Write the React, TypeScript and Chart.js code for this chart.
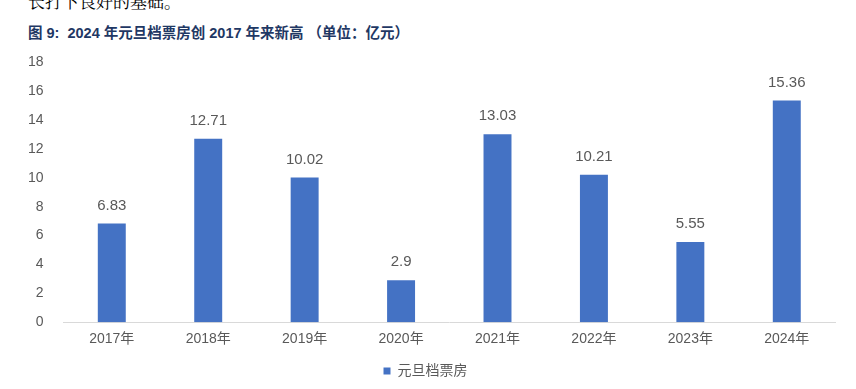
import React, { useEffect, useRef } from "react";
import { Chart, registerables } from "chart.js";

Chart.register(...registerables);

const categories = ["2017年", "2018年", "2019年", "2020年", "2021年", "2022年", "2023年", "2024年"];
const boxOffice = [6.83, 12.71, 10.02, 2.9, 13.03, 10.21, 5.55, 15.36];
const valueLabels = ["6.83", "12.71", "10.02", "2.9", "13.03", "10.21", "5.55", "15.36"];
const seriesName = "元旦档票房";
const yTicks = [0, 2, 4, 6, 8, 10, 12, 14, 16, 18];

const FONT = "'Liberation Sans', 'Noto Sans CJK SC', sans-serif";

const labelPlugin = {
  id: "valueLabels",
  afterDatasetsDraw(chart: any) {
    const ctx = chart.ctx;
    const meta = chart.getDatasetMeta(0);
    ctx.save();
    ctx.font = `15px ${FONT}`;
    ctx.fillStyle = "#595959";
    ctx.textAlign = "center";
    ctx.textBaseline = "middle";
    meta.data.forEach((el: any, i: number) => {
      ctx.fillText(valueLabels[i], el.x, el.y - 18);
    });
    ctx.restore();
  },
};

export default function App() {
  const ref = useRef<HTMLCanvasElement>(null);
  useEffect(() => {
    if (!ref.current) return;
    const chart = new Chart(ref.current, {
      type: "bar",
      data: {
        labels: categories,
        datasets: [
          {
            label: seriesName,
            data: boxOffice,
            backgroundColor: "#4472c4",
            barPercentage: 0.29,
            categoryPercentage: 1,
          },
        ],
      },
      options: {
        animation: false,
        responsive: false,
        maintainAspectRatio: false,
        layout: { padding: { left: 16, right: 21, top: 7, bottom: 4 } },
        plugins: {
          tooltip: { enabled: false },
          legend: {
            position: "bottom",
            labels: {
              boxWidth: 7,
              boxHeight: 7,
              padding: 7,
              color: "#595959",
              font: { family: FONT, size: 14 },
            },
          },
        },
        scales: {
          x: {
            grid: { display: true, drawOnChartArea: false, drawTicks: false, color: "#d9d9d9" },
            border: { display: true, color: "#d9d9d9", width: 1 },
            ticks: { color: "#595959", font: { family: FONT, size: 14 }, padding: 9 },
          },
          y: {
            min: 0,
            max: 18,
            afterBuildTicks: (axis: any) => {
              axis.ticks = yTicks.map((v) => ({ value: v }));
            },
            grid: { display: false },
            border: { display: false },
            ticks: { color: "#595959", font: { family: FONT, size: 14 }, padding: 12 },
          },
        },
      },
      plugins: [labelPlugin],
    });
    return () => chart.destroy();
  }, []);

  return (
    <div style={{ position: "fixed", left: 0, top: 0, width: 856, height: 389, background: "#fff", overflow: "hidden" }}>
      <div
        style={{
          position: "absolute",
          left: 28,
          top: -12,
          fontFamily: "'Noto Serif CJK SC', 'Noto Sans CJK SC', serif",
          fontSize: 17,
          color: "#000",
          whiteSpace: "nowrap",
        }}
      >
        长打下良好的基础。
      </div>
      <div
        style={{
          position: "absolute",
          left: 28,
          top: 21,
          fontFamily: "'Liberation Sans', 'Noto Sans CJK SC', sans-serif",
          fontWeight: "bold",
          fontSize: 14.5,
          color: "#1f3864",
          whiteSpace: "nowrap",
        }}
      >
        图 9:&nbsp; 2024 年元旦档票房创 2017 年来新高 （单位：亿元）
      </div>
      <canvas ref={ref} width={856} height={350} style={{ position: "absolute", left: 0, top: 42 }} />
    </div>
  );
}
